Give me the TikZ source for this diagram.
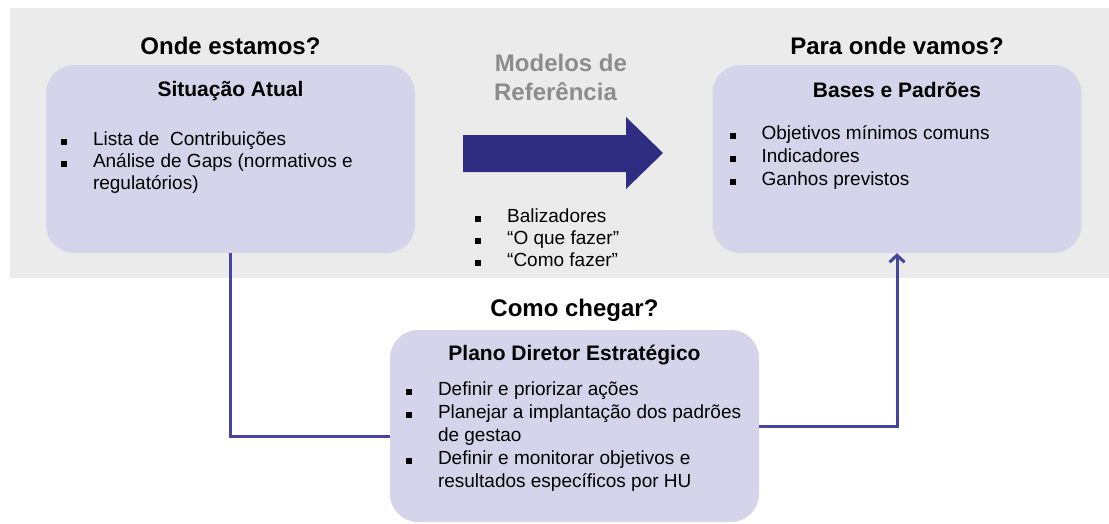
\documentclass[tikz,border=0pt]{standalone}
\usepackage{fontspec}
\setmainfont{Liberation Sans}
\usetikzlibrary{arrows.meta}
\definecolor{bandgray}{RGB}{234,235,234}
\definecolor{lav}{RGB}{214,212,234}
\definecolor{navy}{RGB}{46,45,130}
\definecolor{linkc}{RGB}{70,68,158}
\definecolor{refgray}{RGB}{140,140,140}
\newcommand\sqb{\rule[0.5pt]{6pt}{6pt}}
\newcommand\blist[2][22]{{\fontsize{19}{#1}\selectfont\begin{tabular}[t]{@{}p{32pt}@{}l@{}}#2\end{tabular}}}

\begin{document}
\begin{tikzpicture}[x=1pt,y=-1pt,
    box/.style={fill=lav, rounded corners=28pt, minimum width=369pt, minimum height=188pt, inner sep=0pt},
    head/.style={font=\fontsize{24}{28}\selectfont\bfseries, anchor=base},
    ttl/.style={font=\fontsize{21}{25}\selectfont\bfseries, anchor=base},
    lst/.style={anchor=base west, inner sep=0pt},
    link/.style={draw=linkc, line width=3pt}]
    \useasboundingbox (0,0) rectangle (1109,523);
    \fill[bandgray] (10,8) rectangle (1109,278);

    % onde estamos
    \node[box] (sit) at (230.5,159) {};
    \node[head] at ([yshift=10pt]sit.north) {Onde estamos?};
    \node[ttl] at ([yshift=-32pt]sit.north) {Situação Atual};
    \node[lst] at ([xshift=15pt,yshift=-81pt]sit.north west)
      {\blist{\sqb & Lista de\ \ Contribuições\\ \sqb & Análise de Gaps (normativos e\\ & regulatórios)}};

    % modelos de referencia
    \node[head, text=refgray] (mod) at (561,71) {Modelos de};
    \node[head, text=refgray] (ref) at (555.5,100) {Referência};
    \fill[navy] (463,135) -- (626,135) -- (626,117) -- (663,153) -- (626,189) -- (626,172) -- (463,172) -- cycle;
    \node[lst] at (475,222)
      {\blist{\sqb & Balizadores\\ \sqb & “O que fazer”\\ \sqb & “Como fazer”}};

    % para onde vamos
    \node[box] (bases) at (897,159) {};
    \node[head] at ([yshift=10pt]bases.north) {Para onde vamos?};
    \node[ttl] at ([yshift=-33pt]bases.north) {Bases e Padrões};
    \node[lst] at ([xshift=17pt,yshift=-75pt]bases.north west)
      {\blist[23]{\sqb & Objetivos mínimos comuns\\ \sqb & Indicadores\\ \sqb & Ganhos previstos}};

    % como chegar
    \node[box, minimum height=192pt] (plano) at (574.5,426) {};
    \node[head] at ([yshift=13pt]plano.north) {Como chegar?};
    \node[ttl] at ([yshift=-31pt]plano.north) {Plano Diretor Estratégico};
    \node[lst] at ([xshift=16pt,yshift=-66pt]plano.north west)
      {\blist[23]{\sqb & Definir e priorizar ações\\ \sqb & Planejar a implantação dos padrões\\ & de gestao\\ \sqb & Definir e monitorar objetivos e\\ & resultados específicos por HU}};

    \draw[link] (sit.south) |- ([yshift=-10pt]plano.west);
    \draw[link, -{Straight Barb[length=7pt,width=15pt]}] (plano.east) -| (bases.south);
\end{tikzpicture}
\end{document}
